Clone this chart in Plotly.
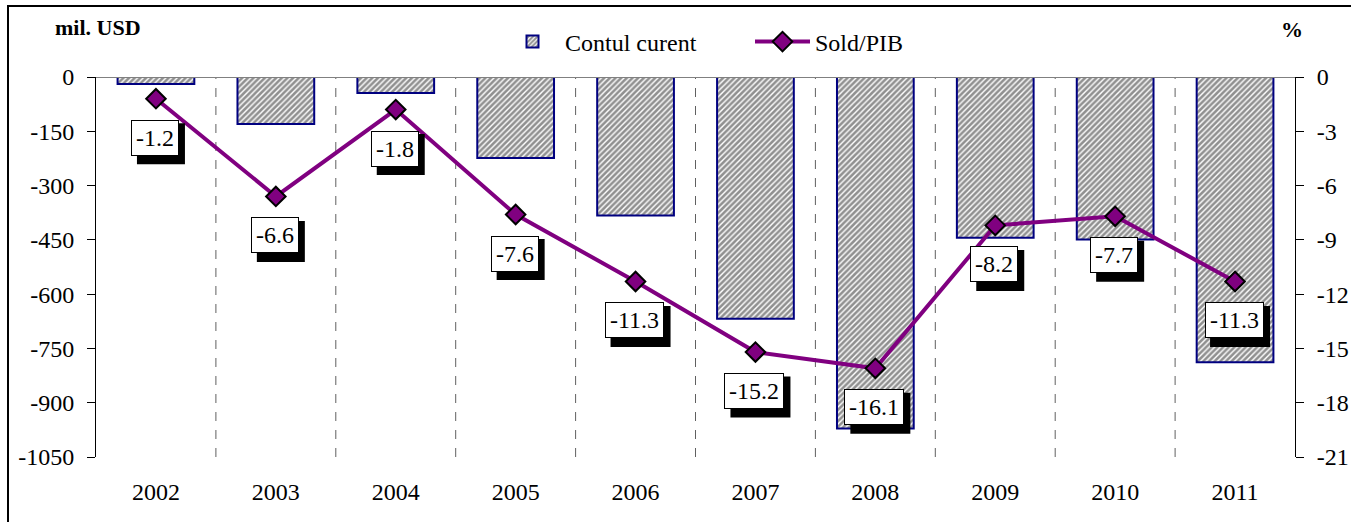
import plotly.graph_objects as go

years = ["2002", "2003", "2004", "2005", "2006", "2007", "2008", "2009", "2010", "2011"]
contul_curent = [-19, -130, -44, -224, -383, -668, -971, -444, -449, -788]
sold_pib = [-1.2, -6.6, -1.8, -7.6, -11.3, -15.2, -16.1, -8.2, -7.7, -11.3]
y1_ticks = [0, -150, -300, -450, -600, -750, -900, -1050]
y2_ticks = [0, -3, -6, -9, -12, -15, -18, -21]

FONT = "Liberation Serif, Times New Roman, DejaVu Serif, serif"
W, H = 1351, 522
L, R, T, B = 96, 56, 77, 65
pw = W - L - R
ph = H - T - B

fig = go.Figure()
fig.add_trace(go.Bar(
    x=list(range(len(years))), y=contul_curent, name="Contul curent", width=0.64,
    marker=dict(color="white", line=dict(color="#000080", width=2),
                pattern=dict(shape="/", fgcolor="#222222", bgcolor="white", size=4, solidity=0.65)),
    yaxis="y",
))
fig.add_trace(go.Scatter(
    x=list(range(len(years))), y=sold_pib, name="Sold/PIB", mode="lines+markers",
    line=dict(color="#800080", width=4),
    marker=dict(symbol="diamond", size=15, color="#800080", line=dict(color="black", width=2)),
    yaxis="y2",
))

fs_lab = 24
def text_w(s):
    w = 0
    for ch in s:
        w += 0.333 if ch == "-" else (0.25 if ch == "." else 0.5)
    return w * fs_lab + 10

shapes = []
annotations = []
for i, v in enumerate(sold_pib):
    s = f"{v:.1f}"
    w = text_w(s)
    cx, cy = -1, -39
    h = 41
    shapes.append(dict(type="rect", xref="x", yref="y2", xsizemode="pixel", ysizemode="pixel",
                       xanchor=i, yanchor=v,
                       x0=cx - w / 2 + 6, x1=cx + w / 2 + 6, y0=cy - h / 2 - 6, y1=cy + h / 2 - 6,
                       fillcolor="black", line=dict(width=0), layer="above"))
    annotations.append(dict(x=i, y=v, xref="x", yref="y2", text=s, showarrow=False,
                            xshift=cx, yshift=cy, font=dict(family=FONT, size=fs_lab, color="black"),
                            bgcolor="white", bordercolor="black", borderwidth=1, borderpad=4))

# zero line at top
shapes.append(dict(type="line", xref="paper", yref="y", x0=0, x1=1, y0=0, y1=0,
                   line=dict(color="#808080", width=2), layer="above"))
# outer frame
shapes.append(dict(type="rect", xref="paper", yref="paper",
                   x0=(8 - L) / pw, x1=1.2, y0=-0.3, y1=1 + (T - 6) / ph,
                   line=dict(color="black", width=2), fillcolor="rgba(0,0,0,0)", layer="below"))

annotations.append(dict(x=(98 - L) / pw, y=1 + (T - 27) / ph, xref="paper", yref="paper",
                        text="<b>mil. USD</b>", showarrow=False, xanchor="center", yanchor="middle",
                        font=dict(family=FONT, size=22, color="black")))
annotations.append(dict(x=(1292 - L) / pw, y=1 + (T - 29) / ph, xref="paper", yref="paper",
                        text="<b>%</b>", showarrow=False, xanchor="center", yanchor="middle",
                        font=dict(family=FONT, size=22, color="black")))

fig.update_layout(
    width=W, height=H, margin=dict(l=L, r=R, t=T, b=B, autoexpand=False),
    paper_bgcolor="white", plot_bgcolor="white",
    font=dict(family=FONT, size=24, color="black"),
    showlegend=True,
    legend=dict(orientation="h", x=(500 - L) / pw, xanchor="left", y=1 + (T - 42) / ph, yanchor="middle",
                font=dict(family=FONT, size=24), itemwidth=55, tracegroupgap=0,
                bgcolor="rgba(0,0,0,0)", entrywidth=180),
    xaxis=dict(tickmode="array", tickvals=list(range(len(years))), ticktext=years,
               range=[-0.5, len(years) - 0.5], showgrid=False, showline=False, zeroline=False,
               ticks="", ticklabelstandoff=18, tickfont=dict(size=24), automargin=False),
    yaxis=dict(range=[-1050, 0], tickvals=y1_ticks, ticktext=[str(t) for t in y1_ticks],
               showgrid=False, zeroline=False, showline=True, linecolor="black", linewidth=1,
               ticks="outside", ticklen=8, tickcolor="black", ticklabelstandoff=8,
               tickfont=dict(size=24), automargin=False),
    yaxis2=dict(range=[-21, 0], tickvals=y2_ticks, ticktext=[str(t) for t in y2_ticks],
                overlaying="y", side="right", showgrid=False, zeroline=False, showline=True,
                linecolor="black", linewidth=1, ticks="outside", ticklen=8, tickcolor="black",
                ticklabelstandoff=8, tickfont=dict(size=24), automargin=False),
    shapes=shapes + [dict(type="line", xref="x", yref="y", x0=i + 0.5, x1=i + 0.5, y0=-1050, y1=0,
                          line=dict(color="#606060", width=1, dash="dash"), layer="below")
                     for i in range(len(years) - 1)],
    annotations=annotations,
)
fig.write_html("out.html", config={"displayModeBar": False},
               post_script="document.body.style.margin='0';")
